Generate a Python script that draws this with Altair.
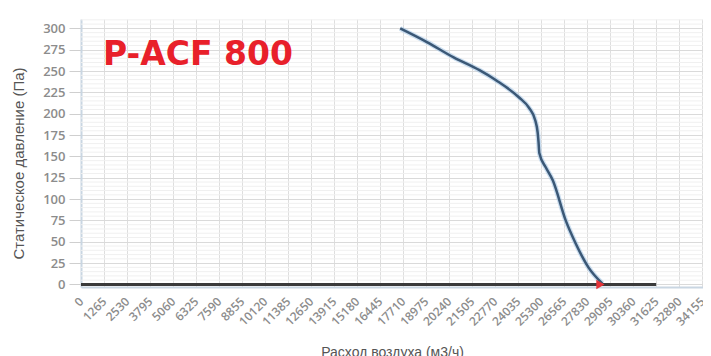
import altair as alt
import pandas as pd

# ---- data ----
curve_flow = [17550, 19020, 20490, 21910, 22840, 24090, 24630, 24980, 25110, 25160, 25200, 25560, 25940, 26650, 27200, 27900, 28670]
curve_pressure = [300, 284, 266, 251, 239, 219, 207, 192, 178, 166, 154, 137, 122, 75, 48, 20, 1]
base_flow = [0, 31625]
base_pressure = [0, 0]
point_flow = [28560]
point_pressure = [0]
x_ticks = [0, 1265, 2530, 3795, 5060, 6325, 7590, 8855, 10120, 11385, 12650, 13915, 15180,
           16445, 17710, 18975, 20240, 21505, 22770, 24035, 25300, 26565, 27830, 29095,
           30360, 31625, 32890, 34155]
y_ticks = [0, 25, 50, 75, 100, 125, 150, 175, 200, 225, 250, 275, 300]
y_minor = [v for v in range(0, 311, 5) if v % 25 != 0]
title_text = ["P-ACF 800"]

X_DOMAIN = [0, 34200]
Y_DOMAIN = [-3, 311]

curve_df = pd.DataFrame({"flow": curve_flow, "p": curve_pressure})
base_df = pd.DataFrame({"flow": base_flow, "p": base_pressure})
pt_df = pd.DataFrame({"flow": point_flow, "p": point_pressure})
minor_df = pd.DataFrame({"p": y_minor})
title_df = pd.DataFrame({"t": title_text})

xscale = alt.Scale(domain=X_DOMAIN, nice=False, zero=False)
yscale = alt.Scale(domain=Y_DOMAIN, nice=False, zero=False)

x_axis = alt.Axis(
    values=x_ticks, format="d", labelAngle=-45, labelAlign="right", labelBaseline="middle",
    labelColor="#8c8c8c", labelFontSize=12, labelFont="Open Sans", labelFontWeight=600,
    labelPadding=12, ticks=False, grid=True, gridColor="#dedede", gridWidth=1,
    domainColor="#c9d6e2", domainWidth=2,
    title="Расход воздуха (м3/ч)", titleColor="#555555", titleFontSize=14,
    titleFont="Liberation Sans", titleFontWeight="normal", titleBaseline="top",
    titleY=58, labelOverlap=False, labelFlush=False, labelBound=False,
)
y_axis = alt.Axis(
    values=y_ticks, labelColor="#8c8c8c", labelFontSize=13, labelFont="Open Sans",
    labelFontWeight=600, labelPadding=4, tickSize=12, tickColor="#cfcfcf",
    grid=True, gridColor="#dadada", domainColor="#c9d6e2", domainWidth=2,
    title="Статическое давление (Па)", titleColor="#555555", titleFontSize=15,
    titleFont="Liberation Sans", titleFontWeight="normal", titleX=-55, titleY=144,
    labelOverlap=False,
)

minor = alt.Chart(minor_df).mark_rule(color="#f0f0f0", strokeWidth=1).encode(
    y=alt.Y("p:Q", scale=yscale, axis=y_axis)
)

base = alt.Chart(base_df).mark_line(color="#3a3a3a", strokeWidth=3).encode(
    x=alt.X("flow:Q", scale=xscale, axis=x_axis),
    y=alt.Y("p:Q", scale=yscale, axis=y_axis),
)

halo = alt.Chart(curve_df).mark_line(color="#a9c8e6", strokeWidth=5, interpolate="monotone", opacity=0.6).encode(
    x=alt.X("flow:Q", scale=xscale, axis=x_axis), y=alt.Y("p:Q", scale=yscale, axis=y_axis)
)
curve = alt.Chart(curve_df).mark_line(color="#3b5876", strokeWidth=2.5, interpolate="monotone").encode(
    x=alt.X("flow:Q", scale=xscale, axis=x_axis), y=alt.Y("p:Q", scale=yscale, axis=y_axis)
)
pt = alt.Chart(pt_df).mark_point(shape="triangle-right", filled=True, color="#e53238", size=90, opacity=1).encode(
    x=alt.X("flow:Q", scale=xscale, axis=x_axis), y=alt.Y("p:Q", scale=yscale, axis=y_axis)
)
title = alt.Chart(title_df).mark_text(
    color="#e8202a", fontSize=33, fontWeight="bold", font="DejaVu Sans",
    align="left", baseline="alphabetic"
).encode(text="t:N", x=alt.value(22), y=alt.value(46))

chart = alt.layer(minor, base, halo, curve, pt, title).resolve_axis(x="shared", y="shared").properties(
    width=622, height=268,
    autosize=alt.AutoSizeParams(type="none"),
    padding={"left": 73, "top": 11, "right": 0, "bottom": 69},
).configure_view(stroke=None)

chart.save("out.html", embed_options={"renderer": "svg", "actions": False})
